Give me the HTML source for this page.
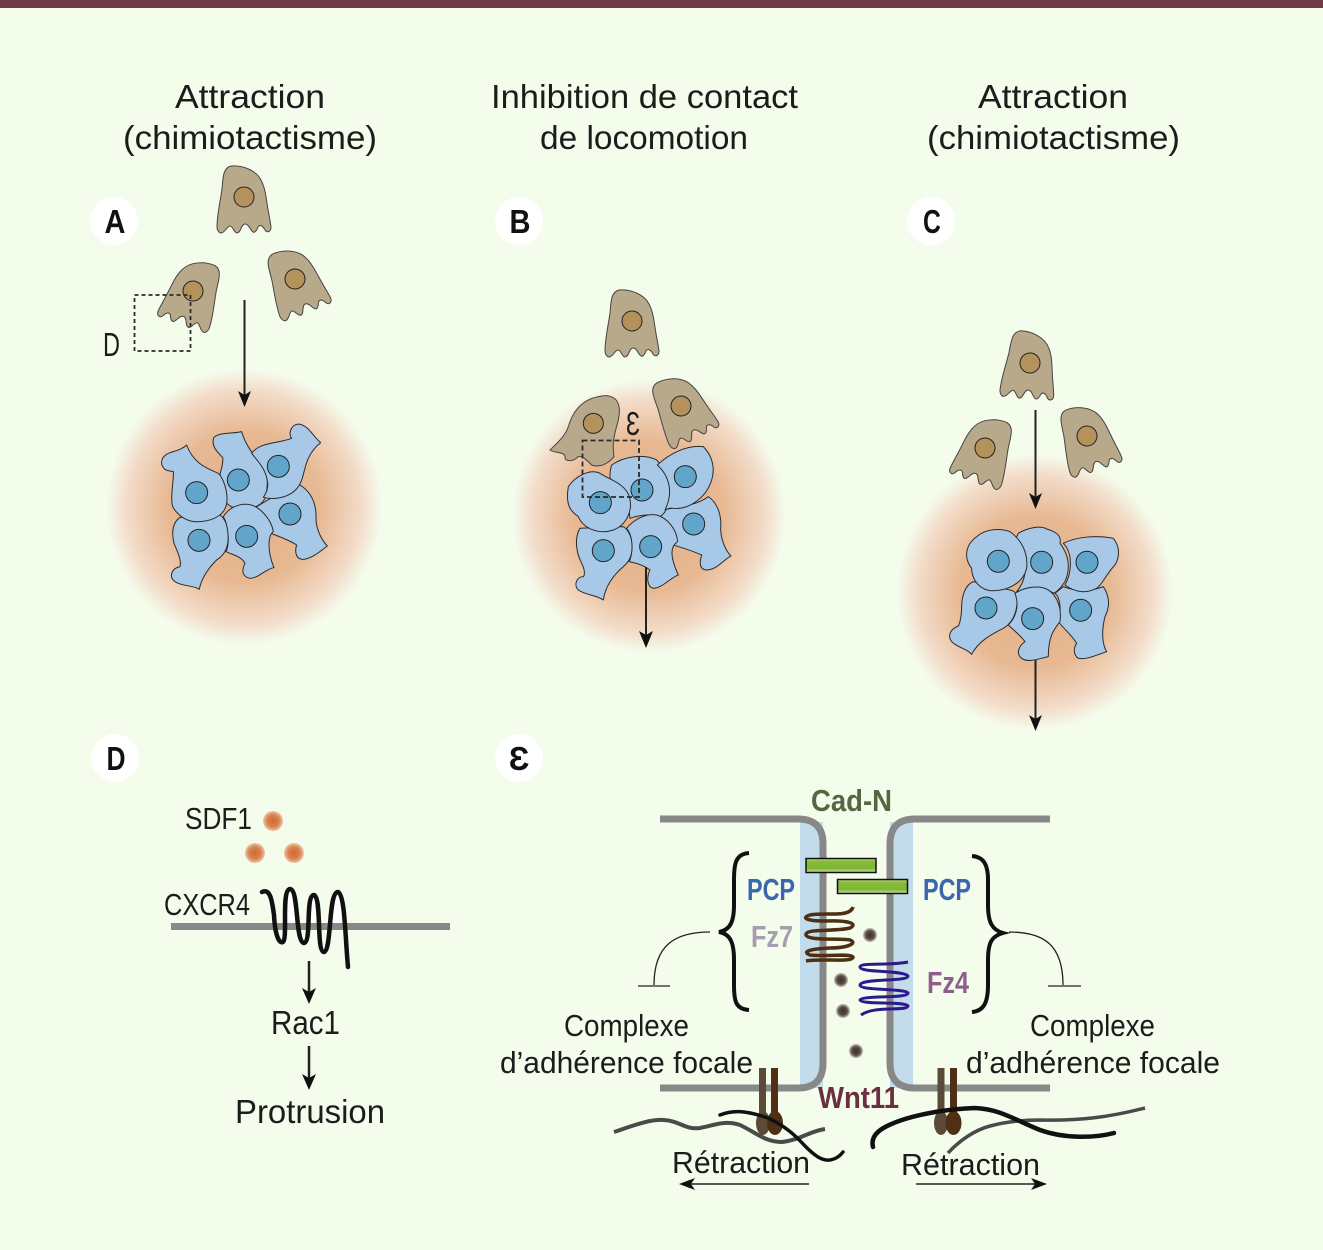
<!DOCTYPE html>
<html>
<head>
<meta charset="utf-8">
<style>
html,body{margin:0;padding:0;background:#f4fcec;}
svg{display:block;}
text{font-family:"Liberation Sans",sans-serif;}
.t{font-size:33px;fill:#1c1c1c;}
.m{font-size:31px;fill:#1c1c1c;}
.b{font-weight:bold;font-size:31px;}
.bl path{fill:#a8c8e8;stroke:#2b2b2b;stroke-width:3;stroke-linejoin:round;}
.bl circle{fill:#62a5cb;stroke:#222;stroke-width:3;}
</style>
</head>
<body>
<svg width="1323" height="1250" viewBox="0 0 1323 1250" xmlns="http://www.w3.org/2000/svg">
<defs>
<radialGradient id="halo">
<stop offset="0" stop-color="#e3ae82"/>
<stop offset="0.55" stop-color="#e7b993"/>
<stop offset="0.85" stop-color="#f3dcc9"/>
<stop offset="1" stop-color="#f4fcec"/>
</radialGradient>
<radialGradient id="sdf">
<stop offset="0" stop-color="#cf6b34"/>
<stop offset="0.6" stop-color="#d9824f"/>
<stop offset="1" stop-color="#ecc7aa"/>
</radialGradient>
<radialGradient id="wnt">
<stop offset="0" stop-color="#3d3230"/>
<stop offset="0.6" stop-color="#5a4c48"/>
<stop offset="1" stop-color="#c9c4ba"/>
</radialGradient>
<linearGradient id="gr" x1="0" y1="0" x2="0" y2="1">
<stop offset="0" stop-color="#c4e08e"/>
<stop offset="0.2" stop-color="#86bd3c"/>
<stop offset="0.7" stop-color="#7db535"/>
<stop offset="1" stop-color="#cfe6a6"/>
</linearGradient>
<g id="cell">
<path d="M-27,30 C-27,18 -24,6 -22,-8 C-21,-20 -21,-29 -13,-31 C-2,-32 12,-27 17,-17 C22,-8 22,2 23,6 C24,14 26,22 27,30 C27,35 23,36 21,33 C19,29 16,27 14,30 C13,33 11,36 9,35 C6,33 5,27 1,27 C-3,27 -3,36 -7,36 C-10,36 -11,29 -14,29 C-17,29 -19,36 -23,36 C-25,36 -27,33 -27,30Z" fill="#b9a98b" stroke="#444" stroke-width="1"/>
<circle r="10" fill="#b5925c" stroke="#222" stroke-width="1"/>
</g>
</defs>

<rect width="1323" height="1250" fill="#f4fcec"/>
<rect width="1323" height="8" fill="#6e3a44"/>

<!-- titles -->
<text class="t" x="175" y="108" textLength="150" lengthAdjust="spacingAndGlyphs">Attraction</text>
<text class="t" x="123" y="149" textLength="254" lengthAdjust="spacingAndGlyphs">(chimiotactisme)</text>
<text class="t" x="491" y="108" textLength="307" lengthAdjust="spacingAndGlyphs">Inhibition de contact</text>
<text class="t" x="540" y="149" textLength="208" lengthAdjust="spacingAndGlyphs">de locomotion</text>
<text class="t" x="978" y="108" textLength="150" lengthAdjust="spacingAndGlyphs">Attraction</text>
<text class="t" x="927" y="149" textLength="253" lengthAdjust="spacingAndGlyphs">(chimiotactisme)</text>

<!-- halos -->
<circle cx="244" cy="507" r="138" fill="url(#halo)"/>
<circle cx="649" cy="516" r="137" fill="url(#halo)"/>
<circle cx="1035" cy="592" r="138" fill="url(#halo)"/>

<!-- letter badges -->
<g fill="#fff">
<circle cx="114" cy="221" r="24"/><circle cx="519" cy="221" r="24"/><circle cx="931" cy="221" r="24"/>
<circle cx="115" cy="758" r="24"/><circle cx="519" cy="758" r="24"/>
</g>
<g fill="#111" text-anchor="middle">
<text class="b" x="115" y="233" style="font-size:33px" transform="translate(115,0) scale(0.88,1) translate(-115,0)">A</text>
<text class="b" x="520" y="233" style="font-size:33px" transform="translate(520,0) scale(0.88,1) translate(-520,0)">B</text>
<text class="b" x="932" y="233" style="font-size:33px" transform="translate(932,0) scale(0.75,1) translate(-932,0)">C</text>
<text class="b" x="116" y="770" style="font-size:33px" transform="translate(116,0) scale(0.8,1) translate(-116,0)">D</text>
<text class="b" x="519" y="770" style="font-size:33px">Ɛ</text>
</g>

<!-- Panel A blue cells -->
<g class="bl" transform="translate(100,400) scale(0.3333)">
<path d="M470,320 C520,290 570,260 600,255 C640,280 650,320 648,360 C650,390 665,420 682,438 C660,455 630,480 605,478 C585,475 585,450 590,435 C560,415 520,405 490,390Z"/>
<circle cx="570" cy="342" r="33"/>
<path d="M425,95 C400,102 360,95 342,112 C332,135 350,155 368,172 C372,190 360,210 358,240 C355,280 375,320 410,325 C440,330 480,325 495,295 C505,260 505,220 490,195 C460,170 435,130 425,95Z"/>
<circle cx="415" cy="240" r="33"/>
<path d="M662,128 C640,110 625,75 595,72 C570,75 565,105 575,115 C540,130 480,125 455,160 C475,185 500,210 503,250 C505,270 495,285 490,292 C520,300 570,295 595,260 C620,225 605,175 662,128Z"/>
<circle cx="535" cy="199" r="33"/>
<path d="M240,352 C215,370 215,400 222,430 C235,460 245,485 240,500 C215,505 205,530 225,545 C245,560 280,555 298,568 C305,530 330,500 350,480 C375,465 385,440 385,410 C385,380 375,355 360,345Z"/>
<circle cx="297" cy="421" r="33"/>
<path d="M370,350 C385,325 415,310 445,313 C480,318 515,360 520,395 C505,405 500,450 522,503 C500,505 475,535 450,535 C425,530 425,510 435,490 C425,470 400,465 378,455 C390,430 385,375 370,350Z"/>
<circle cx="440" cy="409" r="33"/>
<path d="M260,135 C245,150 225,152 205,160 C180,172 180,195 195,208 C205,215 215,212 220,215 C222,240 210,290 218,320 C235,350 265,368 300,365 C340,362 375,345 380,310 C385,275 370,235 355,220 C320,205 280,190 260,135Z"/>
<circle cx="290" cy="278" r="33"/>
</g>

<!-- Panel B blue cells -->
<g class="bl" transform="translate(510,280) scale(0.3333)">
<path d="M450,690 C530,680 570,670 595,650 C625,670 635,710 632,745 C632,775 645,810 663,828 C640,840 620,870 590,870 C565,870 570,840 575,825 C540,810 510,800 470,790Z"/>
<circle cx="551" cy="732" r="33"/>
<path d="M305,555 C340,530 400,520 440,540 C465,570 485,600 480,650 C475,680 465,710 440,712 C420,700 390,705 360,715 C355,680 355,640 300,595 C300,580 300,570 305,555Z"/>
<circle cx="396" cy="630" r="33"/>
<path d="M442,555 C480,520 530,495 580,500 C610,530 615,570 605,600 C590,650 540,690 490,685 C475,682 468,690 465,690 C490,640 480,590 442,555Z"/>
<circle cx="526" cy="590" r="33"/>
<path d="M210,745 C195,770 195,810 215,850 C225,870 225,885 220,890 C200,890 190,915 205,930 C225,945 260,945 280,960 C285,925 305,890 340,860 C365,840 370,810 365,780 C360,760 350,745 340,740Z"/>
<circle cx="280" cy="812" r="33"/>
<path d="M350,745 C375,715 410,700 440,705 C475,715 500,750 503,785 C480,800 480,830 505,885 C480,895 455,925 430,925 C410,920 410,890 420,870 C400,855 380,850 358,845 C370,815 370,770 350,745Z"/>
<circle cx="422" cy="800" r="33"/>
<path d="M175,620 C195,590 240,565 270,580 C300,600 345,610 358,650 C370,690 350,735 310,750 C265,765 220,745 205,710 C185,695 165,680 175,620Z"/>
<circle cx="271" cy="668" r="33"/>
<path d="M120,510 C140,490 165,470 175,440 C190,390 220,350 290,347 C320,350 335,370 325,420 C315,460 305,480 312,530 C295,550 270,565 245,555 C230,540 215,525 205,530 C190,545 170,545 165,535 C170,515 135,520 120,510Z" style="fill:#b9a98b;stroke:#444"/>
<circle cx="250" cy="430" r="30" style="fill:#b5925c"/>
</g>

<!-- Panel C blue cells -->
<g class="bl" transform="translate(900,320) scale(0.3333)">
<path d="M220,785 C195,795 185,830 185,860 C185,885 180,910 175,918 C155,925 140,945 155,965 C175,985 200,985 215,1003 C235,965 270,945 310,925 C345,905 355,860 350,825 C345,815 340,812 330,810Z"/>
<circle cx="258" cy="864" r="33"/>
<path d="M490,800 C530,815 570,815 610,800 C630,830 630,860 615,890 C605,930 605,970 620,995 C590,1005 560,1020 535,1015 C520,1005 520,985 530,970 C515,945 490,925 475,905 C485,870 480,830 465,820Z"/>
<circle cx="542" cy="871" r="33"/>
<path d="M490,670 C530,650 590,645 640,655 C660,680 660,710 645,735 C620,760 610,790 590,805 C560,820 530,820 495,795 C515,760 520,700 490,670Z"/>
<circle cx="561" cy="727" r="33"/>
<path d="M355,640 C380,625 420,615 440,627 C470,635 485,650 480,670 C510,710 510,750 495,785 C485,800 475,812 462,820 C430,800 400,800 350,815 C380,780 390,720 345,660Z"/>
<circle cx="425" cy="727" r="33"/>
<path d="M345,820 C375,800 420,795 445,810 C475,830 485,870 480,905 C465,925 445,945 445,1010 C420,1015 385,1030 365,1015 C345,1000 360,975 375,965 C360,945 340,930 325,915 C345,895 360,860 345,820Z"/>
<circle cx="398" cy="896" r="33"/>
<path d="M230,650 C260,625 300,625 330,635 C365,660 385,700 380,745 C370,790 320,815 270,812 C230,805 215,770 215,745 C195,720 190,680 230,650Z"/>
<circle cx="295" cy="724" r="33"/>
</g>

<!-- brown cells -->
<use href="#cell" transform="translate(244,197)"/>
<use href="#cell" transform="translate(193,291) rotate(18) scale(-1,1)"/>
<use href="#cell" transform="translate(295,279) rotate(-20)"/>
<use href="#cell" transform="translate(632,321)"/>
<use href="#cell" transform="translate(681,406) rotate(-25)"/>
<use href="#cell" transform="translate(1030,363) rotate(6)"/>
<use href="#cell" transform="translate(985,448) rotate(18) scale(-1,1)"/>
<use href="#cell" transform="translate(1087,436) rotate(-17)"/>

<!-- dashed boxes -->
<rect x="134.500" y="295" width="56" height="56" fill="none" stroke="#2a2a2a" stroke-width="1.800" stroke-dasharray="4 3"/>
<rect x="582.500" y="440.500" width="56.500" height="56.500" fill="none" stroke="#2a2a2a" stroke-width="1.800" stroke-dasharray="5 3"/>
<text class="t" x="103" y="356" textLength="17" lengthAdjust="spacingAndGlyphs">D</text>
<text class="t" x="626" y="435" textLength="14" lengthAdjust="spacingAndGlyphs">Ɛ</text>

<!-- arrows -->
<g stroke="#222" stroke-width="2" fill="none">
<line x1="244.500" y1="300" x2="244.500" y2="396"/>
<line x1="646" y1="567" x2="646" y2="636"/>
<line x1="1035.500" y1="410" x2="1035.500" y2="498"/>
<line x1="1035.500" y1="660" x2="1035.500" y2="720"/>
<line x1="309" y1="961" x2="309" y2="993" stroke-width="2.500"/>
<line x1="309" y1="1046" x2="309" y2="1079" stroke-width="2.500"/>
<line x1="809" y1="1184" x2="690" y2="1184" stroke-width="1.500"/>
<line x1="916" y1="1184" x2="1036" y2="1184" stroke-width="1.500"/>
</g>
<g fill="#111">
<path d="M238,391 L244.500,395 L251,391 L244.500,407Z"/>
<path d="M639,631 L646,635 L653,631 L646,648Z"/>
<path d="M1029,493 L1035.500,497 L1042,493 L1035.500,509Z"/>
<path d="M1029,715 L1035.500,719 L1042,715 L1035.500,731Z"/>
<path d="M302,988 L309,992 L316,988 L309,1004Z"/>
<path d="M302,1074 L309,1078 L316,1074 L309,1090Z"/>
<path d="M679,1184 L695,1178 L691,1184 L695,1190Z"/>
<path d="M1047,1184 L1031,1178 L1035,1184 L1031,1190Z"/>
</g>

<!-- Panel D -->
<text class="m" x="185" y="829" textLength="67" lengthAdjust="spacingAndGlyphs">SDF1</text>
<circle cx="273" cy="821" r="10" fill="url(#sdf)"/>
<circle cx="255" cy="853" r="10" fill="url(#sdf)"/>
<circle cx="294" cy="853" r="10" fill="url(#sdf)"/>
<text class="m" x="164" y="915" textLength="86" lengthAdjust="spacingAndGlyphs">CXCR4</text>
<g fill="#fff">
<ellipse cx="291" cy="908" rx="6" ry="14"/>
<ellipse cx="313" cy="911" rx="5" ry="12"/>
<ellipse cx="336" cy="910" rx="6" ry="15"/>
</g>
<rect x="171" y="923" width="279" height="7" fill="#888"/>
<path d="M262,892 C270,888 272,900 274,915 C275,935 279,944 283,942 C288,938 281,890 290,889 C299,889 295,942 304,943 C312,942 305,895 314,895 C322,898 316,952 324,952 C332,950 328,892 338,892 C345,895 345,935 348,967" fill="none" stroke="#111" stroke-width="4.500" stroke-linecap="round"/>
<text class="t" x="271" y="1034" textLength="69" lengthAdjust="spacingAndGlyphs">Rac1</text>
<text class="t" x="235" y="1123" textLength="150" lengthAdjust="spacingAndGlyphs">Protrusion</text>

<!-- Panel E membranes -->
<rect x="800" y="822" width="23" height="266" fill="#c3dcec"/>
<rect x="890" y="822" width="23" height="266" fill="#c3dcec"/>
<g fill="none" stroke="#888" stroke-width="7">
<path d="M660,819 H798 Q823,819 823,844 V1063 Q823,1088 798,1088 H660"/>
<path d="M1050,819 H915 Q890,819 890,844 V1063 Q890,1088 915,1088 H1050"/>
</g>

<!-- cadherin -->
<rect x="806" y="858.500" width="70" height="14" fill="url(#gr)" stroke="#111" stroke-width="1.500"/>
<rect x="837.500" y="879.500" width="70" height="14" fill="url(#gr)" stroke="#111" stroke-width="1.500"/>

<!-- coils -->
<path d="M853,907 C850,918 825,912 810,915 C800,918 808,921 825,921 C850,920 858,924 850,928 C835,932 805,928 806,935 C808,941 840,938 850,940 C858,943 848,948 830,948 C808,949 802,952 810,955 C825,957 850,953 853,957 C853,963 820,958 806,961" fill="none" stroke="#4d2f14" stroke-width="3.500"/>
<path d="M908,962 C890,966 860,962 860,967 C860,973 905,970 908,976 C908,982 862,978 860,985 C860,991 905,988 908,993 C908,999 862,995 860,1000 C862,1005 905,1001 908,1006 C906,1012 875,1005 861,1015" fill="none" stroke="#2a1a8c" stroke-width="3"/>

<!-- dots -->
<circle cx="870" cy="935" r="7" fill="url(#wnt)"/>
<circle cx="841" cy="980" r="7" fill="url(#wnt)"/>
<circle cx="843" cy="1011" r="7" fill="url(#wnt)"/>
<circle cx="856" cy="1051" r="7" fill="url(#wnt)"/>

<!-- braces -->
<g fill="none" stroke="#111" stroke-width="4">
<path d="M749,853 C735,854 734,865 734,880 V905 C734,922 730,930 719,932 C730,934 734,942 734,960 V985 C734,1002 736,1009 749,1010"/>
<path d="M972,856 C984,857 988,865 988,880 V905 C988,922 992,930 1003,933 C992,936 988,942 988,960 V985 C988,1002 984,1011 972,1012"/>
</g>
<g fill="none" stroke="#222" stroke-width="1.300">
<path d="M710,932 C675,932 654,945 654,985"/>
<path d="M638,986 H670"/>
<path d="M1009,932 C1044,932 1063,945 1063,985"/>
<path d="M1048,986 H1081"/>
</g>

<!-- E labels -->
<text class="b" x="811" y="811" textLength="81" lengthAdjust="spacingAndGlyphs" fill="#566640">Cad-N</text>
<text class="b" x="747" y="900" textLength="48" lengthAdjust="spacingAndGlyphs" fill="#3a66ae">PCP</text>
<text class="b" x="923" y="900" textLength="48" lengthAdjust="spacingAndGlyphs" fill="#3a66ae">PCP</text>
<text class="b" x="751" y="947" textLength="42" lengthAdjust="spacingAndGlyphs" fill="#a89cb0">Fz7</text>
<text class="b" x="927" y="993" textLength="42" lengthAdjust="spacingAndGlyphs" fill="#8f5f8c">Fz4</text>
<text class="b" x="818" y="1108" textLength="81" lengthAdjust="spacingAndGlyphs" fill="#6a3040">Wnt11</text>

<text class="m" x="564" y="1036" textLength="125" lengthAdjust="spacingAndGlyphs">Complexe</text>
<text class="m" x="500" y="1073" textLength="253" lengthAdjust="spacingAndGlyphs">d’adhérence focale</text>
<text class="m" x="1030" y="1036" textLength="125" lengthAdjust="spacingAndGlyphs">Complexe</text>
<text class="m" x="966" y="1073" textLength="254" lengthAdjust="spacingAndGlyphs">d’adhérence focale</text>
<text class="m" x="672" y="1173" textLength="138" lengthAdjust="spacingAndGlyphs">Rétraction</text>
<text class="m" x="901" y="1175" textLength="139" lengthAdjust="spacingAndGlyphs">Rétraction</text>

<!-- fibres -->
<path d="M614,1132 C635,1125 650,1119 664,1120 C680,1121 685,1130 700,1128 C715,1125 725,1120 740,1125 C755,1132 765,1142 782,1142 C800,1140 810,1131 825,1129" fill="none" stroke="#4a4a4a" stroke-width="4"/>
<path d="M948,1153 C960,1140 975,1130 990,1126 C1005,1122 1020,1120 1040,1120 C1080,1121 1110,1117 1145,1108" fill="none" stroke="#4a4a4a" stroke-width="3.500"/>

<!-- adhesion rods -->
<rect x="759" y="1068" width="7" height="46" fill="#5c4a38"/>
<rect x="771" y="1068" width="7" height="46" fill="#4f3015"/>
<rect x="937.500" y="1068" width="7" height="46" fill="#5c4a38"/>
<rect x="950" y="1068" width="7" height="46" fill="#4f3015"/>
<ellipse cx="763" cy="1123" rx="7" ry="12" fill="#5c4a38"/>
<ellipse cx="775" cy="1123" rx="8" ry="12" fill="#4f3015"/>
<ellipse cx="941" cy="1123" rx="7" ry="12" fill="#5c4a38"/>
<ellipse cx="953.500" cy="1123" rx="8" ry="12" fill="#4f3015"/>

<path d="M720,1115 C732,1110 745,1110 768,1118 C785,1126 795,1135 805,1146 C815,1156 822,1161 830,1160 C836,1159 840,1156 843,1152" fill="none" stroke="#111" stroke-width="3.500" stroke-linecap="round"/>
<path d="M873,1147 C870,1135 880,1127 905,1119 C925,1113 950,1109 975,1108 C1000,1109 1015,1120 1040,1130 C1065,1139 1095,1138 1114,1133" fill="none" stroke="#111" stroke-width="4.500" stroke-linecap="round"/>
</svg>
</body>
</html>
